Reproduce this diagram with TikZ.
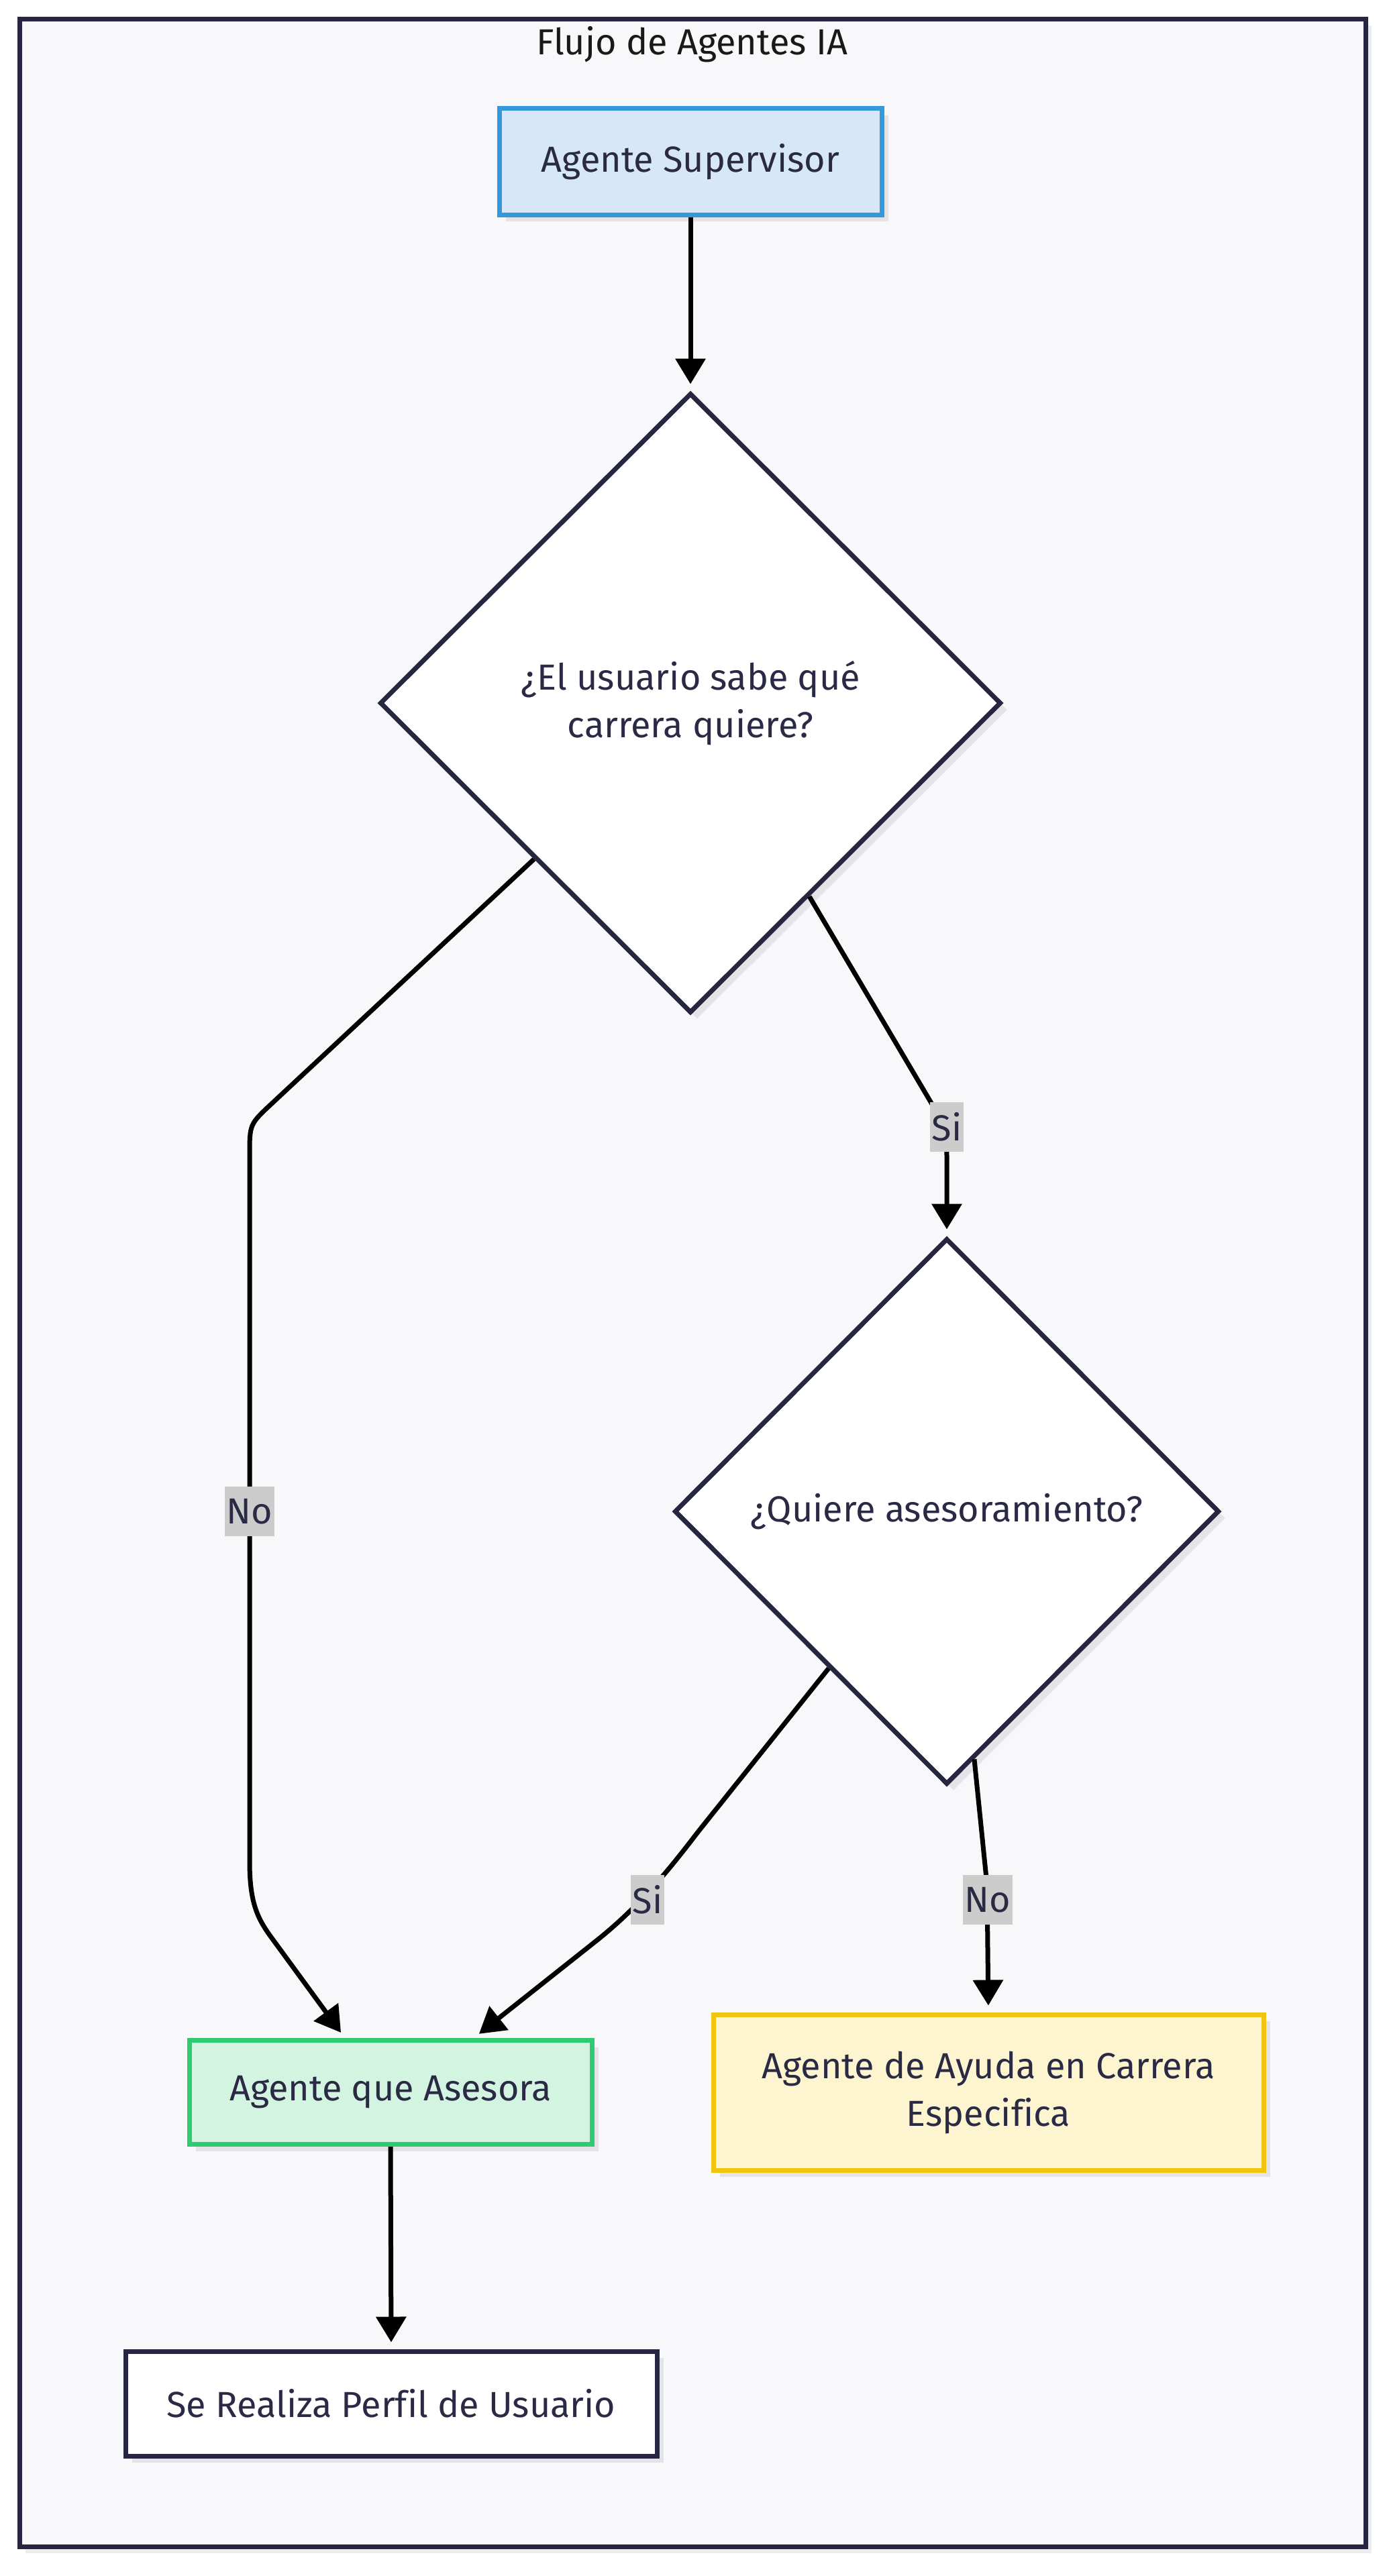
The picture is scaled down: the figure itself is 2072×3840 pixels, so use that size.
\documentclass[tikz,border=0pt]{standalone}
\usepackage{fontspec}
\setmainfont[Ligatures=NoCommon]{Fira Sans}
\usetikzlibrary{shapes.geometric,arrows.meta,shadows,calc}
\definecolor{ink}{HTML}{2A2A44}
\definecolor{frameline}{HTML}{272640}
\definecolor{framefill}{HTML}{F8F8FA}
\definecolor{shade}{HTML}{E4E4E8}
\definecolor{bluefill}{HTML}{D6E8F7}
\definecolor{blueline}{HTML}{3498DB}
\definecolor{greenfill}{HTML}{D4F4E2}
\definecolor{greenline}{HTML}{2ECC71}
\definecolor{yellowfill}{HTML}{FDF4D0}
\definecolor{yellowline}{HTML}{F1C40F}
\definecolor{labelgray}{HTML}{CCCCCC}
\begin{document}
\begin{tikzpicture}[x=1pt,y=-1pt,
  txt/.style={font=\fontsize{54}{71}\selectfont, text=ink},
  shadowed/.style={general shadow={fill=shade, shadow xshift=10pt, shadow yshift=-10pt}},
  box/.style={txt, shadowed, rectangle, draw, line width=7pt, inner sep=0pt, align=center},
  decision/.style={txt, shadowed, diamond, draw=frameline, fill=white, line width=7pt,
    minimum width=926pt, minimum height=924pt, inner sep=0pt, align=center},
  conn/.style={draw=black, line width=7pt, -{Triangle[length=38pt,width=44pt]}, shorten >=10pt},
  elabel/.style={txt, fill=labelgray, inner sep=3pt, minimum height=74pt}
]
\useasboundingbox (0,0) rectangle (2072,3840);
\fill[white] (0,0) rectangle (2072,3840);
% frame
\fill[shade!70] (38,38) rectangle (2044,3806);
\draw[line width=7pt, draw=frameline, fill=framefill] (29,29) rectangle (2035,3796);
\node[font=\fontsize{54}{71}\selectfont, text=black!90] (title) at (1031,66) {Flujo de Agentes IA};

% nodes
\node[box, draw=blueline, fill=bluefill, minimum width=570pt, minimum height=158pt] (sup) at (1029,241) {Agente Supervisor};
\node[decision] (d1) at (1029,1048) {¿El usuario sabe qué\\carrera quiere?};
\node[decision, minimum width=812pt, minimum height=814pt] (d2) at (1411,2253) {¿Quiere asesoramiento?};
\node[box, draw=greenline, fill=greenfill, minimum width=600pt, minimum height=155pt] (ases) at (582,3119) {Agente que Asesora};
\node[box, draw=yellowline, fill=yellowfill, minimum width=820pt, minimum height=232pt] (ayuda) at (1473,3119) {Agente de Ayuda en Carrera\\Especifica};
\node[box, draw=frameline, fill=white, minimum width=792pt, minimum height=156pt] (perfil) at (583,3583) {Se Realiza Perfil de Usuario};

% connectors
\draw[conn] (sup.south) -- (d1.north);

\coordinate (s1) at ($(d1.south)!0.38!(d1.east)$);
\draw[conn] (s1) -- (1386,1641) .. controls (1411,1683) .. (1411,1735) -- (d2.north);
\node[elabel] (l1) at (1411,1680) {Si};

\coordinate (n1) at ($(d1.west)!0.5!(d1.south)$);
\coordinate (n1end) at ($(ases.north)+(-68,0)$);
\draw[conn] (n1) -- (404,1646) .. controls (372,1676) .. (372,1722) -- (372,2775)
  .. controls (372,2840) and (385,2862) .. (408,2893) -- (n1end);
\node[elabel] (l2) at (372,2253) {No};

\coordinate (s2) at ($(d2.south)!0.43!(d2.west)$);
\coordinate (s2end) at ($(ases.north)+(124,0)$);
\draw[conn] (s2) -- (1040,2731) .. controls (995,2790) and (950,2845) .. (885,2896) -- (s2end);
\node[elabel] (l3) at (965,2832) {Si};

\coordinate (s3) at ($(d2.south)!0.1!(d2.east)$);
\draw[conn] (s3) -- (1471,2810) -- (ayuda.north);
\node[elabel] (l4) at (1472,2832) {No};

\draw[conn] (ases.south) -- (perfil.north);
\end{tikzpicture}
\end{document}
